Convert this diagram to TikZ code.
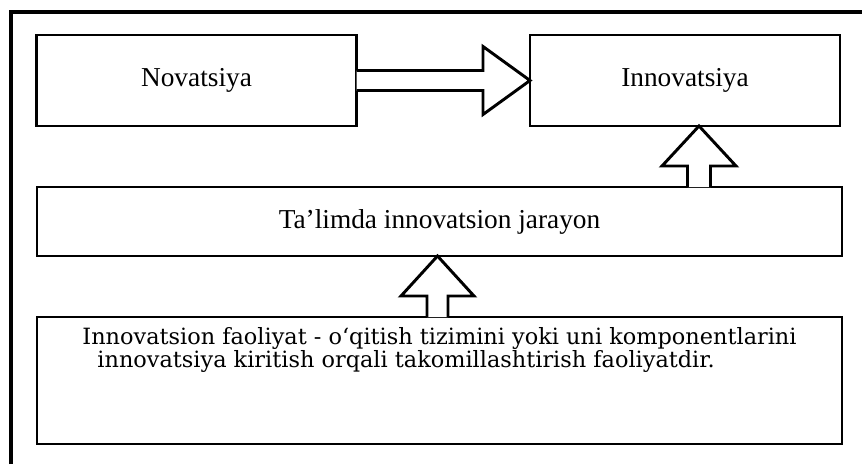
\documentclass[tikz,border=0pt]{standalone}
\usepackage{fontspec}
\setmainfont{Liberation Serif}
\newfontfamily\bookfont{DejaVu Serif}
\usetikzlibrary{calc}

\begin{document}
\begin{tikzpicture}[x=0.75pt,y=-0.75pt,
  box/.style={draw, line width=2.2pt, outer sep=0pt, inner sep=0pt,
    font=\fontsize{20.5}{24}\selectfont},
  blk/.style={draw, line width=2.2pt, fill=white, line join=miter}]
\useasboundingbox (0,0) rectangle (862,464);
% frame
\draw[line width=2.6pt] (11,464) -- (11,12) -- (862,12);

% boxes
\node[box, minimum width=240pt, minimum height=68.25pt] (nov) at (196.5,80.5) {Novatsiya};
\node[box, minimum width=232.5pt, minimum height=68.25pt] (inn) at (685,80.5) {Innovatsiya};
\node[box, minimum width=603.75pt, minimum height=51.75pt] (proc) at (439.5,221.5) {Ta’limda innovatsion jarayon};
\node[box, minimum width=603.75pt, minimum height=95.25pt] (act) at (439.5,380.5) {};
\node[font=\bookfont\fontsize{16.8}{17.25}\selectfont, align=left, anchor=north, inner sep=0pt]
  (actText) at ($(act.north)+(0,10)$)
  {Innovatsion faoliyat - o‘qitish tizimini yoki uni komponentlarini\\
   \hspace*{11.25pt}innovatsiya kiritish orqali takomillashtirish faoliyatdir.};

% block arrows
\draw[blk] ($(nov.east)+(0,-10)$) -- ($(inn.west)+(-47,-10)$) -- ($(inn.west)+(-47,-34)$)
  -- (inn.west) -- ($(inn.west)+(-47,34)$) -- ($(inn.west)+(-47,10)$) -- ($(nov.east)+(0,10)$);

\coordinate (t1) at ($(inn.south)+(14,0)$);
\draw[blk] ($(t1 |- proc.north)+(-11.5,0)$) -- ($(t1)+(-11.5,40)$) -- ($(t1)+(-37,40)$)
  -- (t1) -- ($(t1)+(37,40)$) -- ($(t1)+(11.5,40)$) -- ($(t1 |- proc.north)+(11.5,0)$);

\coordinate (t2) at ($(proc.south)+(-2,0)$);
\draw[blk] ($(t2 |- act.north)+(-10.5,0)$) -- ($(t2)+(-10.5,40)$) -- ($(t2)+(-36.5,40)$)
  -- (t2) -- ($(t2)+(36.5,40)$) -- ($(t2)+(10.5,40)$) -- ($(t2 |- act.north)+(10.5,0)$);

\end{tikzpicture}
\end{document}
